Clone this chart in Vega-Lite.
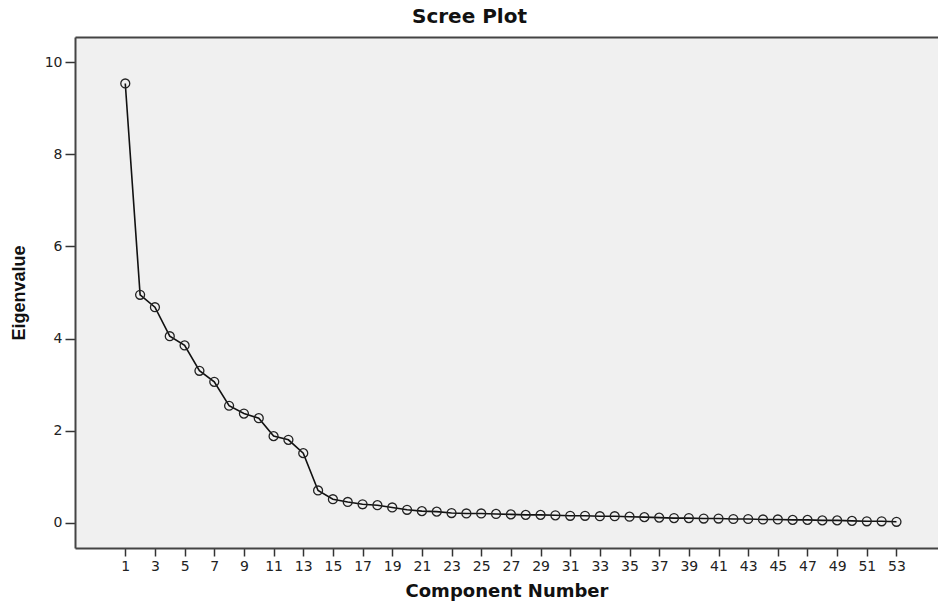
{
  "$schema": "https://vega.github.io/schema/vega-lite/v6.json",
  "autosize": "none",
  "width": 863,
  "height": 511,
  "padding": {"left": 75, "top": 37, "right": 0, "bottom": 58},
  "background": "white",
  "title": {"text": "Scree Plot", "font": "DejaVu Sans", "fontSize": 20, "fontWeight": "bold", "color": "#111", "anchor": "middle", "dx": -37, "offset": 10},
  "config": {
    "view": {"stroke": null, "fill": "#f0f0f0"},
    "axis": {"domainColor": "#444", "domainWidth": 2, "tickColor": "#333", "tickWidth": 1.5, "labelFont": "DejaVu Sans", "labelFontSize": 14, "labelColor": "#222", "grid": false, "titleFontWeight": "bold", "titleColor": "#111"}
  },
  "data": {"values": [
    {"component": 1, "eigenvalue": 9.54},
    {"component": 2, "eigenvalue": 4.95},
    {"component": 3, "eigenvalue": 4.68},
    {"component": 4, "eigenvalue": 4.05},
    {"component": 5, "eigenvalue": 3.85},
    {"component": 6, "eigenvalue": 3.30},
    {"component": 7, "eigenvalue": 3.06},
    {"component": 8, "eigenvalue": 2.54},
    {"component": 9, "eigenvalue": 2.37},
    {"component": 10, "eigenvalue": 2.27},
    {"component": 11, "eigenvalue": 1.88},
    {"component": 12, "eigenvalue": 1.80},
    {"component": 13, "eigenvalue": 1.51},
    {"component": 14, "eigenvalue": 0.70},
    {"component": 15, "eigenvalue": 0.51},
    {"component": 16, "eigenvalue": 0.45},
    {"component": 17, "eigenvalue": 0.40},
    {"component": 18, "eigenvalue": 0.38},
    {"component": 19, "eigenvalue": 0.33},
    {"component": 20, "eigenvalue": 0.28},
    {"component": 21, "eigenvalue": 0.25},
    {"component": 22, "eigenvalue": 0.24},
    {"component": 23, "eigenvalue": 0.21},
    {"component": 24, "eigenvalue": 0.20},
    {"component": 25, "eigenvalue": 0.20},
    {"component": 26, "eigenvalue": 0.19},
    {"component": 27, "eigenvalue": 0.18},
    {"component": 28, "eigenvalue": 0.17},
    {"component": 29, "eigenvalue": 0.17},
    {"component": 30, "eigenvalue": 0.16},
    {"component": 31, "eigenvalue": 0.15},
    {"component": 32, "eigenvalue": 0.15},
    {"component": 33, "eigenvalue": 0.14},
    {"component": 34, "eigenvalue": 0.14},
    {"component": 35, "eigenvalue": 0.13},
    {"component": 36, "eigenvalue": 0.12},
    {"component": 37, "eigenvalue": 0.11},
    {"component": 38, "eigenvalue": 0.10},
    {"component": 39, "eigenvalue": 0.10},
    {"component": 40, "eigenvalue": 0.09},
    {"component": 41, "eigenvalue": 0.09},
    {"component": 42, "eigenvalue": 0.08},
    {"component": 43, "eigenvalue": 0.08},
    {"component": 44, "eigenvalue": 0.07},
    {"component": 45, "eigenvalue": 0.07},
    {"component": 46, "eigenvalue": 0.06},
    {"component": 47, "eigenvalue": 0.06},
    {"component": 48, "eigenvalue": 0.05},
    {"component": 49, "eigenvalue": 0.05},
    {"component": 50, "eigenvalue": 0.04},
    {"component": 51, "eigenvalue": 0.03},
    {"component": 52, "eigenvalue": 0.03},
    {"component": 53, "eigenvalue": 0.02}
  ]},
  "layer": [
    {
      "mark": {"type": "line", "color": "#111", "strokeWidth": 1.6, "point": {"filled": false, "fill": "transparent", "stroke": "#222", "size": 80, "strokeWidth": 1.3}},
      "encoding": {
        "x": {"field": "component", "type": "quantitative", "scale": {"domain": [-2.39, 55.8], "nice": false, "zero": false},
              "axis": {"values": [1,3,5,7,9,11,13,15,17,19,21,23,25,27,29,31,33,35,37,39,41,43,45,47,49,51,53], "tickSize": 8, "labelPadding": 3, "labelFlush": false, "labelOverlap": false, "title": "Component Number", "titleFont": "DejaVu Sans", "titleFontSize": 18, "titlePadding": 9}},
        "y": {"field": "eigenvalue", "type": "quantitative", "scale": {"domain": [-0.55, 10.55], "nice": false, "zero": false},
              "axis": {"values": [0,2,4,6,8,10], "tickSize": 10, "labelPadding": 3, "labelFlush": false, "title": "Eigenvalue", "titleFont": "Liberation Sans", "titleFontSize": 18, "titlePadding": 16}}
      }
    },
    {
      "mark": {"type": "point", "opacity": 0},
      "encoding": {
        "x": {"field": "component", "type": "quantitative", "axis": {"orient": "top", "labels": false, "ticks": false, "title": null, "domain": true}},
        "y": {"field": "eigenvalue", "type": "quantitative"}
      }
    }
  ],
  "resolve": {"axis": {"x": "independent"}}
}
